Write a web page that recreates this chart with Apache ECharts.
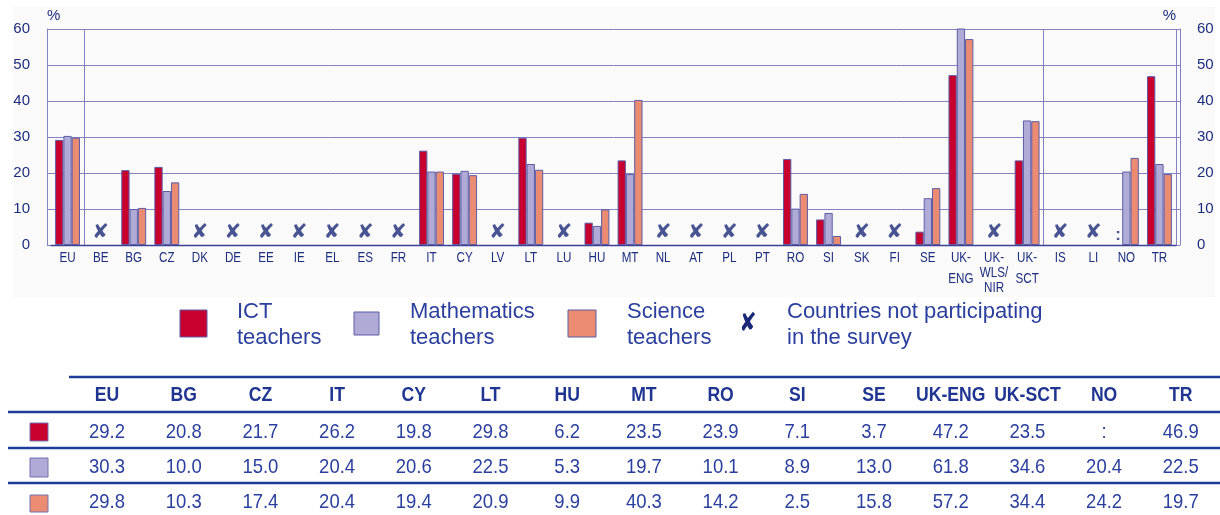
<!DOCTYPE html>
<html>
<head>
<meta charset="utf-8">
<script src="https://cdn.jsdelivr.net/npm/echarts@6.0.0/dist/echarts.min.js"></script>
<style>
  html, body { margin: 0; padding: 0; background: #ffffff; }
  #chart { width: 1220px; height: 515px; }
</style>
</head>
<body>
<div id="chart"></div>
<script>
// Share of teachers (%) by country; countries missing from surveyCountries did not take part
const categories = ['EU', 'BE', 'BG', 'CZ', 'DK', 'DE', 'EE', 'IE', 'EL', 'ES', 'FR', 'IT', 'CY', 'LV', 'LT', 'LU',
  'HU', 'MT', 'NL', 'AT', 'PL', 'PT', 'RO', 'SI', 'SK', 'FI', 'SE', 'UK-ENG', 'UK-WLS/NIR', 'UK-SCT', 'IS', 'LI', 'NO', 'TR'];
const surveyCountries = ['EU', 'BG', 'CZ', 'IT', 'CY', 'LT', 'HU', 'MT', 'RO', 'SI', 'SE', 'UK-ENG', 'UK-SCT', 'NO', 'TR'];
const ictTeachers = [29.2, 20.8, 21.7, 26.2, 19.8, 29.8, 6.2, 23.5, 23.9, 7.1, 3.7, 47.2, 23.5, null, 46.9];
const mathTeachers = [30.3, 10.0, 15.0, 20.4, 20.6, 22.5, 5.3, 19.7, 10.1, 8.9, 13.0, 61.8, 34.6, 20.4, 22.5];
const scienceTeachers = [29.8, 10.3, 17.4, 20.4, 19.4, 20.9, 9.9, 40.3, 14.2, 2.5, 15.8, 57.2, 34.4, 24.2, 19.7];
const seriesNames = ['ICT teachers', 'Mathematics teachers', 'Science teachers'];
const legendLabels = ['ICT\nteachers', 'Mathematics\nteachers', 'Science\nteachers', 'Countries not participating\nin the survey'];
const yMin = 0, yMax = 60, yStep = 10;
const groupBreaks = ['BE', 'IS'];   // a thin rule is drawn before these categories
const notAvailable = ':';
const notParticipating = '\u2718';

// Styling
const barColors = ['#c8002e', '#afabd6', '#ea8b72'];
const barBorder = '#5d5da6';
const gridColor = '#8282c4';
const axisText = '#1d2d7f';
const bodyText = '#2a3f9e';
const markColor = '#1b2a78';
const ruleColor = '#1f3d98';
const sans = "'Liberation Sans', Arial, sans-serif";

const series = [ictTeachers, mathTeachers, scienceTeachers];
const valueFor = (arr, c) => { const i = surveyCountries.indexOf(c); return i < 0 ? null : arr[i]; };
const absent = categories.filter(c => !surveyCountries.includes(c));
const missingIct = surveyCountries.filter((c, i) => ictTeachers[i] === null);

const barSeries = series.map((arr, k) => ({
  name: seriesNames[k],
  type: 'bar',
  xAxisIndex: 1,
  yAxisIndex: 2,
  barWidth: 8.3,
  barGap: '0%',
  data: categories.map(c => valueFor(arr, c)),
  itemStyle: { color: barColors[k], borderColor: barBorder, borderWidth: 1 },
  emphasis: { disabled: true }
}));

// Country labels under the axis, set in a condensed style; long names wrap after '-' and '/'
const countryLabels = {
  type: 'custom',
  xAxisIndex: 1, yAxisIndex: 2,
  clip: false, silent: true,
  data: categories.map(c => [c, 0]),
  renderItem: (params, api) => {
    const p = api.coord([api.value(0), api.value(1)]);
    const text = categories[params.dataIndex].replace('UK-', 'UK-\n').replace('/', '/\n');
    const lines = text.split('\n').length;
    const lh = lines > 2 ? 15 : 21;
    return {
      type: 'text', x: p[0], y: p[1] + 13 - lh / 2, scaleX: 0.75,
      style: {
        text: text, fill: axisText, fontFamily: sans, fontSize: 15.5, lineHeight: lh,
        align: 'center', verticalAlign: 'top'
      }
    };
  }
};

// Legend and data table drawn as graphic elements
const graphics = [];
graphics.push({ type: 'rect', z: -1, silent: true, shape: { x: 13, y: 7, width: 1202, height: 290 }, style: { fill: '#fafafa' } });

const swatches = [
  { x: 180, y: 310, w: 27, h: 27, tx: 237 },
  { x: 354, y: 312, w: 25, h: 23, tx: 410 },
  { x: 568, y: 310, w: 28, h: 27, tx: 627 }
];
swatches.forEach((s, k) => {
  graphics.push({ type: 'rect', shape: { x: s.x, y: s.y, width: s.w, height: s.h },
    style: { fill: barColors[k], stroke: barBorder, lineWidth: 1 } });
  graphics.push({ type: 'text', style: { text: legendLabels[k], x: s.tx, y: 299, fill: bodyText,
    fontFamily: sans, fontSize: 22, lineHeight: 26, verticalAlign: 'top' } });
});
graphics.push({ type: 'text', x: 748, y: 324, scaleX: 0.8, style: { text: notParticipating, fill: markColor,
  fontFamily: 'DejaVu Sans', fontWeight: 'bold', fontSize: 26, fontStyle: 'italic', align: 'center', verticalAlign: 'middle' } });
graphics.push({ type: 'text', style: { text: legendLabels[3], x: 787, y: 299, fill: bodyText,
  fontFamily: sans, fontSize: 22, lineHeight: 26, verticalAlign: 'top' } });

// table
const colX0 = 107, colStep = 76.7;
const rowY = [395, 432, 467, 502];
graphics.push({ type: 'line', shape: { x1: 69, y1: 377, x2: 1220, y2: 377 }, style: { stroke: ruleColor, lineWidth: 2.5 } });
[412, 448, 483].forEach(y => graphics.push({ type: 'line', shape: { x1: 8, y1: y, x2: 1220, y2: y },
  style: { stroke: ruleColor, lineWidth: 2.5 } }));
surveyCountries.forEach((c, i) => {
  const x = colX0 + i * colStep;
  graphics.push({ type: 'text', x: x, y: rowY[0], scaleX: 0.88, style: { text: c, fill: '#1f3591', fontFamily: sans,
    fontWeight: 'bold', fontSize: 20, align: 'center', verticalAlign: 'middle' } });
  series.forEach((arr, k) => {
    const v = arr[i];
    graphics.push({ type: 'text', x: x, y: rowY[k + 1], scaleX: 0.88, style: { text: v === null ? notAvailable : v.toFixed(1),
      fill: bodyText, fontFamily: sans, fontSize: 21, align: 'center', verticalAlign: 'middle' } });
  });
});
const swatchRows = [[423, 18], [458, 19], [495, 17]];
swatchRows.forEach((r, k) => graphics.push({ type: 'rect', shape: { x: 30, y: r[0], width: 18, height: r[1] },
  style: { fill: barColors[k], stroke: '#7070b0', lineWidth: 1 } }));

const chart = echarts.init(document.getElementById('chart'), null, { renderer: 'canvas' });
chart.setOption({
  animation: false,
  backgroundColor: 'transparent',
  grid: [
    { left: 47, right: 40, top: 29, bottom: 270 },
    { left: 51, right: 44, top: 29, bottom: 270 }
  ],
  xAxis: [
    { type: 'value', gridIndex: 0, show: false, min: 0, max: 1 },
    {
      type: 'category', gridIndex: 1, data: categories,
      axisLine: { lineStyle: { color: '#3d4196', width: 1.3 } },
      axisTick: { show: false },
      axisLabel: { show: false },
      splitLine: {
        show: true,
        interval: (i, v) => groupBreaks.includes(v),
        lineStyle: { color: gridColor, width: 1 }
      }
    }
  ],
  yAxis: [
    {
      type: 'value', gridIndex: 0, position: 'left', min: yMin, max: yMax, interval: yStep,
      name: '%', nameLocation: 'end', nameGap: 6,
      nameTextStyle: { color: axisText, fontFamily: sans, fontSize: 15, align: 'left' },
      axisLine: { show: true, lineStyle: { color: gridColor } },
      axisTick: { show: false },
      axisLabel: { margin: 17, color: axisText, fontFamily: sans, fontSize: 15 },
      splitLine: { show: true, lineStyle: { color: gridColor, width: 1 } }
    },
    {
      type: 'value', gridIndex: 0, position: 'right', min: yMin, max: yMax, interval: yStep,
      name: '%', nameLocation: 'end', nameGap: 6,
      nameTextStyle: { color: axisText, fontFamily: sans, fontSize: 15, align: 'right', padding: [0, 4, 0, 0] },
      axisLine: { show: true, lineStyle: { color: gridColor } },
      axisTick: { show: false },
      axisLabel: { margin: 17, color: axisText, fontFamily: sans, fontSize: 15 },
      splitLine: { show: false }
    },
    { type: 'value', gridIndex: 1, min: yMin, max: yMax, interval: yStep, show: false }
  ],
  series: [
    ...barSeries,
    countryLabels,
    {
      name: 'not participating',
      type: 'scatter', xAxisIndex: 1, yAxisIndex: 2,
      symbolSize: 1, itemStyle: { color: 'rgba(0,0,0,0)' },
      data: absent.map(c => [c, 0]),
      label: { show: true, position: 'inside', offset: [0, -12], formatter: notParticipating,
        color: markColor, fontFamily: 'DejaVu Sans', fontWeight: 'bold', fontSize: 20, fontStyle: 'italic' },
      emphasis: { disabled: true }, silent: true
    },
    {
      name: 'not available',
      type: 'scatter', xAxisIndex: 1, yAxisIndex: 2,
      symbolSize: 1, itemStyle: { color: 'rgba(0,0,0,0)' },
      data: missingIct.map(c => [c, 0]),
      label: { show: true, position: 'inside', offset: [-8.3, -10], formatter: notAvailable,
        color: markColor, fontFamily: sans, fontWeight: 'bold', fontSize: 17 },
      emphasis: { disabled: true }, silent: true
    }
  ],
  graphic: { elements: graphics }
});
</script>
</body>
</html>
